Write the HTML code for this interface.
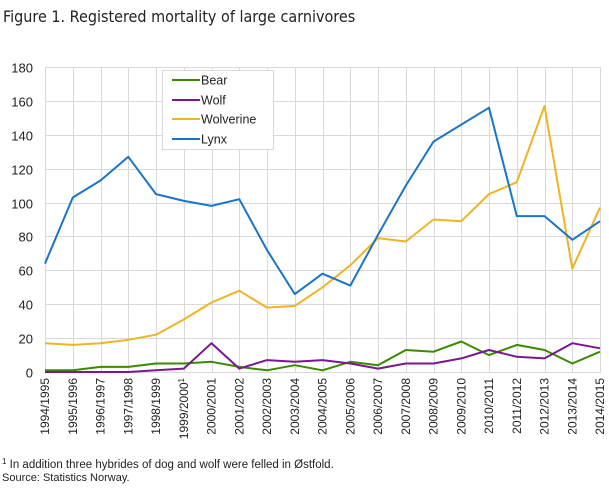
<!DOCTYPE html>
<html><head><style>
body{margin:0;background:#fff;}
svg text{font-family:"Liberation Sans",sans-serif;}
</style></head><body>
<svg width="609" height="488" xmlns="http://www.w3.org/2000/svg">
<text x="3" y="22" font-size="16" fill="#222" style="font-family:'DejaVu Sans Condensed','Liberation Sans',sans-serif">Figure 1.  Registered mortality of large carnivores</text>
<g stroke="#d9d9d9" stroke-width="1" id="grid"></g>
<g id="ylab" font-size="13" fill="#222" text-anchor="end"></g>
<g id="xlab" font-size="12" fill="#222"></g>
<g id="lines" fill="none" stroke-width="2" stroke-linejoin="round"></g>
<rect x="162.5" y="70.5" width="111" height="79" fill="#fff" stroke="#d9d9d9"/>
<g font-size="12.5" fill="#222">
<line x1="172" y1="80" x2="200" y2="80" stroke="#3a8a00" stroke-width="2"/><text x="201" y="84.5">Bear</text>
<line x1="172" y1="100" x2="200" y2="100" stroke="#7a1791" stroke-width="2"/><text x="201" y="104.5">Wolf</text>
<line x1="172" y1="119" x2="200" y2="119" stroke="#f0b323" stroke-width="2"/><text x="201" y="123.5">Wolverine</text>
<line x1="172" y1="139" x2="200" y2="139" stroke="#1a74c8" stroke-width="2"/><text x="201" y="143.5">Lynx</text>
</g>
<text x="2" y="468" font-size="11.5" fill="#222"><tspan font-size="8" dy="-4">1</tspan><tspan dy="4"> In addition three hybrides of dog and wolf were felled in Østfold.</tspan></text>
<text x="2" y="481" font-size="11" fill="#222">Source: Statistics Norway.</text>
</svg>
<script>
const ns="http://www.w3.org/2000/svg";
const X0=45,DX=27.75,Y0=372,YS=305/180;
const g=document.getElementById('grid'),yl=document.getElementById('ylab'),xl=document.getElementById('xlab'),ln=document.getElementById('lines');
function el(p,t,a,txt){const e=document.createElementNS(ns,t);for(const k in a)e.setAttribute(k,a[k]);if(txt!==undefined)e.textContent=txt;p.appendChild(e);return e;}
for(let v=0;v<=180;v+=20){const y=Math.round(Y0-v*YS)+0.5;el(g,'line',{x1:X0,x2:601,y1:y,y2:y});el(yl,'text',{x:33,y:y+5},v);}
for(let i=0;i<=20;i++){const x=Math.round(X0+i*DX)+0.5;el(g,'line',{x1:x,x2:x,y1:67,y2:372});}
const labs=[];for(let i=0;i<21;i++){labs.push((1994+i)+'/'+(1995+i));}
labs[5]='1999/2000';
labs.forEach((l,i)=>{const x=X0+i*DX+4;const t=el(xl,'text',{transform:`translate(${x},378) rotate(-90)`,'text-anchor':'end'},l);if(i==5){el(t,'tspan',{'font-size':'8',dy:'-4'},'1');}});
const data={
'#f0b323':[17,16,17,19,22,31,41,48,38,39,50,63,79,77,90,89,105,112,157,61,97],
'#1a74c8':[64,103,113,127,105,101,98,102,72,46,58,51,81,110,136,146,156,92,92,78,89],
'#3a8a00':[1,1,3,3,5,5,6,3,1,4,1,6,4,13,12,18,10,16,13,5,12],
'#7a1791':[0,0,0,0,1,2,17,2,7,6,7,5,2,5,5,8,13,9,8,17,14]};
for(const c in data){el(ln,'polyline',{stroke:c,points:data[c].map((v,i)=>(X0+i*DX).toFixed(1)+','+(Y0-v*YS).toFixed(1)).join(' ')});}
</script>
</body></html>
